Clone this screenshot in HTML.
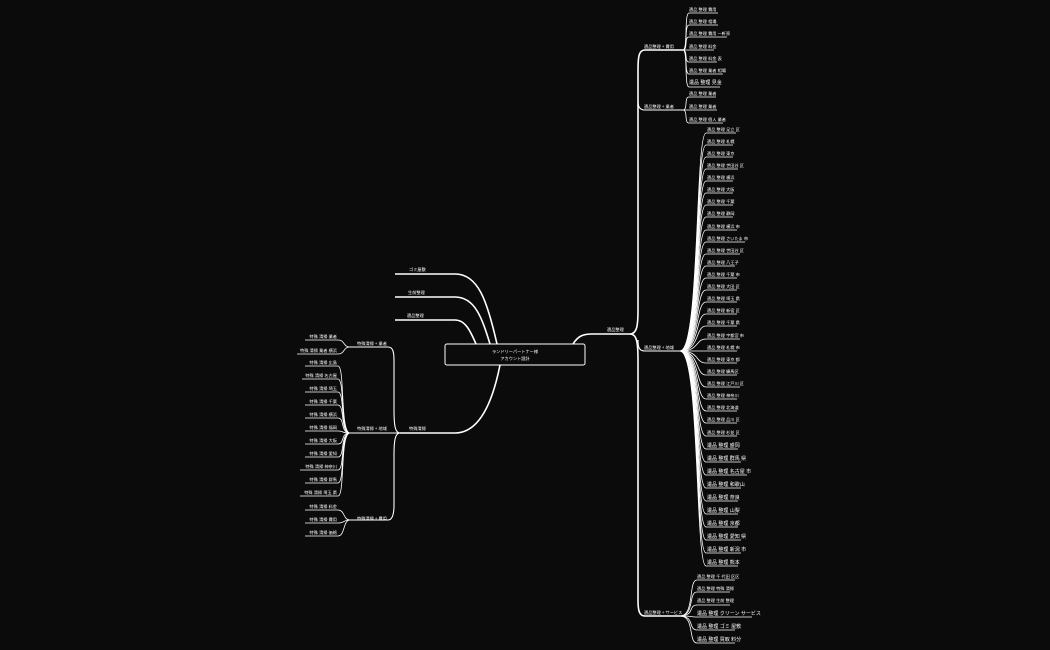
<!DOCTYPE html>
<html><head><meta charset="utf-8"><style>
html,body{margin:0;padding:0;background:#0b0b0b;}
svg{display:block}
text{font-family:"Liberation Sans","Noto Sans CJK JP",sans-serif;fill:#fff;font-size:4.2px}
.b{font-size:5px}
path{fill:none;stroke:#fff;stroke-width:0.8}
.t{stroke-width:1.6}
.m{stroke-width:1.1}
</style></head><body>
<svg width="1050" height="650" viewBox="0 0 1050 650">
<rect width="1050" height="650" fill="#0b0b0b"/>
<!-- root -->
<rect x="445" y="344" width="140" height="21" rx="2" fill="#0b0b0b" stroke="#fff" stroke-width="1"/>
<text x="515" y="353" text-anchor="middle">ランドリーパートナー様</text>
<text x="515" y="360" text-anchor="middle">アカウント設計</text>

<!-- right main -->
<path class="t" d="M573,344 C578,336 583,334 592,334 H630"/>
<text x="607" y="331">遺品整理</text>
<path class="t" d="M630,334 C637,334 638,325 638,310 V70 C638,56 639,50 645,50 H683"/>
<path class="t" d="M630,334 C637,334 638,343 638,360 V600 C638,610 639,616 645,616 H683"/>
<path class="m" d="M638,100 C638,106 639,110 645,110 H683"/>
<path class="m" d="M638,340 C638,347 639,351 645,351 H683"/>
<text x="644" y="48">遺品整理 + 費用</text>
<text x="644" y="108">遺品整理 + 業者</text>
<text x="644" y="349">遺品整理 + 地域</text>
<text x="644" y="614">遺品整理 + サービス</text>

<!-- 費用 leaves -->
<g>
<path d="M683,50 C688,50 684,13 689,13 H718"/><text x="689" y="11">遺品 整理 費用</text>
<path d="M683,50 C688,50 684,25 689,25 H718"/><text x="689" y="23">遺品 整理 相場</text>
<path d="M683,50 C688,50 684,37 689,37 H727"/><text x="689" y="35">遺品 整理 費用 一軒家</text>
<path d="M683,50 C688,50 684,50 689,50 H714"/><text x="689" y="48">遺品 整理 料金</text>
<path d="M683,50 C688,50 684,62 689,62 H717"/><text x="689" y="60">遺品 整理 料金 表</text>
<path d="M683,50 C688,50 684,74 689,74 H723"/><text x="689" y="72">遺品 整理 業者 相場</text>
<path d="M683,50 C688,50 684,87 689,87 H720"/><text class="b" x="689" y="84">遺品 整理 見金</text>
</g>
<!-- 業者 leaves -->
<g>
<path d="M683,110 C688,110 684,97 689,97 H716"/><text x="689" y="95">遺品 整理 業者</text>
<path d="M683,110 C688,110 684,110 689,110 H717"/><text x="689" y="108">遺品 整理 業者</text>
<path d="M683,110 C688,110 684,123 689,123 H723"/><text x="689" y="121">遺品 整理 個人 業者</text>
</g>
<!-- 地域 leaves -->
<g>
<path d="M680,351 C700,351 695,133 706,133 H736"/><text x="707" y="131">遺品 整理 足立 区</text>
<path d="M680,351 C700,351 695,145 706,145 H733"/><text x="707" y="143">遺品 整理 札幌</text>
<path d="M680,351 C700,351 695,157 706,157 H733"/><text x="707" y="155">遺品 整理 東京</text>
<path d="M680,351 C700,351 695,169 706,169 H738"/><text x="707" y="167">遺品 整理 世田谷 区</text>
<path d="M680,351 C700,351 695,181 706,181 H733"/><text x="707" y="179">遺品 整理 横浜</text>
<path d="M680,351 C700,351 695,193 706,193 H733"/><text x="707" y="191">遺品 整理 大阪</text>
<path d="M680,351 C700,351 695,205 706,205 H733"/><text x="707" y="203">遺品 整理 千葉</text>
<path d="M680,351 C700,351 695,217 706,217 H733"/><text x="707" y="215">遺品 整理 静岡</text>
<path d="M680,351 C700,351 695,230 706,230 H737"/><text x="707" y="228">遺品 整理 横浜 市</text>
<path d="M680,351 C700,351 695,242 706,242 H745"/><text x="707" y="240">遺品 整理 さいたま 市</text>
<path d="M680,351 C700,351 695,254 706,254 H740"/><text x="707" y="252">遺品 整理 世田谷 区</text>
<path d="M680,351 C700,351 695,266 706,266 H735"/><text x="707" y="264">遺品 整理 八王子</text>
<path d="M680,351 C700,351 695,278 706,278 H737"/><text x="707" y="276">遺品 整理 千葉 市</text>
<path d="M680,351 C700,351 695,290 706,290 H737"/><text x="707" y="288">遺品 整理 大田 区</text>
<path d="M680,351 C700,351 695,302 706,302 H737"/><text x="707" y="300">遺品 整理 埼玉 県</text>
<path d="M680,351 C700,351 695,314 706,314 H737"/><text x="707" y="312">遺品 整理 新宿 区</text>
<path d="M680,351 C700,351 695,326 706,326 H737"/><text x="707" y="324">遺品 整理 千葉 県</text>
<path d="M680,351 C700,351 695,339 706,339 H740"/><text x="707" y="337">遺品 整理 宇都宮 市</text>
<path d="M680,351 C700,351 695,351 706,351 H737"/><text x="707" y="349">遺品 整理 札幌 市</text>
<path d="M680,351 C700,351 695,363 706,363 H737"/><text x="707" y="361">遺品 整理 東京 都</text>
<path d="M680,351 C700,351 695,375 706,375 H737"/><text x="707" y="373">遺品 整理 練馬区</text>
<path d="M680,351 C700,351 695,387 706,387 H740"/><text x="707" y="385">遺品 整理 江戸川 区</text>
<path d="M680,351 C700,351 695,399 706,399 H737"/><text x="707" y="397">遺品 整理 神奈川</text>
<path d="M680,351 C700,351 695,411 706,411 H737"/><text x="707" y="409">遺品 整理 北海道</text>
<path d="M680,351 C700,351 695,423 706,423 H737"/><text x="707" y="421">遺品 整理 品川 区</text>
<path d="M680,351 C700,351 695,436 706,436 H737"/><text x="707" y="434">遺品 整理 杉並 区</text>
<path d="M680,351 C700,351 695,449 706,449 H738"/><text class="b" x="707" y="447">遺品 整理 盛岡</text>
<path d="M680,351 C700,351 695,462 706,462 H741"/><text class="b" x="707" y="460">遺品 整理 群馬 県</text>
<path d="M680,351 C700,351 695,475 706,475 H747"/><text class="b" x="707" y="473">遺品 整理 名古屋 市</text>
<path d="M680,351 C700,351 695,488 706,488 H741"/><text class="b" x="707" y="486">遺品 整理 和歌山</text>
<path d="M680,351 C700,351 695,501 706,501 H738"/><text class="b" x="707" y="499">遺品 整理 奈良</text>
<path d="M680,351 C700,351 695,514 706,514 H738"/><text class="b" x="707" y="512">遺品 整理 山梨</text>
<path d="M680,351 C700,351 695,527 706,527 H738"/><text class="b" x="707" y="525">遺品 整理 京都</text>
<path d="M680,351 C700,351 695,540 706,540 H741"/><text class="b" x="707" y="538">遺品 整理 愛知 県</text>
<path d="M680,351 C700,351 695,553 706,553 H741"/><text class="b" x="707" y="551">遺品 整理 新潟 市</text>
<path d="M680,351 C700,351 695,566 706,566 H738"/><text class="b" x="707" y="564">遺品 整理 熊本</text>
</g>
<!-- サービス leaves -->
<g>
<path d="M680,616 C695,616 688,580 697,580 H735"/><text x="697" y="578">遺品 整理 千 代田 区区</text>
<path d="M680,616 C695,616 688,592 697,592 H730"/><text x="697" y="590">遺品 整理 特殊 清掃</text>
<path d="M680,616 C695,616 688,605 697,605 H730"/><text x="697" y="602">遺品 整理 生前 整理</text>
<path d="M680,616 C695,616 688,617 697,617 H752"/><text class="b" x="697" y="615">遺品 整理 クリーン サービス</text>
<path d="M680,616 C695,616 688,630 697,630 H735"/><text class="b" x="697" y="628">遺品 整理 ゴミ 屋敷</text>
<path d="M680,616 C695,616 688,643 697,643 H735"/><text class="b" x="697" y="641">遺品 整理 買取 料分</text>
</g>

<!-- left main -->
<path class="t" d="M395,274 H455 C478,274 487,300 497,344"/>
<text x="409" y="271">ゴミ屋敷</text>
<path class="t" d="M395,297 H455 C475,297 482,318 490,344"/>
<text x="408" y="294">生前整理</text>
<path class="t" d="M395,320 H455 C465,320 470,330 476,344"/>
<text x="407" y="317">遺品整理</text>
<path class="t" d="M400,433 H455 C480,433 493,400 500,365"/>
<text x="409" y="430">特殊清掃</text>
<!-- left subtrunk -->
<path class="m" d="M400,433 C395,433 394,425 394,410 V360 C394,350 392,347 388,347 H350"/>
<path class="m" d="M400,433 H350"/>
<path class="m" d="M400,433 C395,433 394,441 394,455 V505 C394,515 392,520 388,520 H350"/>
<text x="357" y="345">特殊清掃 + 業者</text>
<text x="357" y="430">特殊清掃 + 地域</text>
<text x="357" y="520">特殊清掃 + 費用</text>
<g>
<path d="M350,347 C343,347 345,340 338,340 H305"/><text x="337" y="338" text-anchor="end">特殊 清掃 業者</text>
<path d="M350,347 C343,347 345,354 338,354 H297"/><text x="337" y="352" text-anchor="end">特殊 清掃 業者 横浜</text>
</g>
<g>
<path d="M350,433 C340,433 345,366 338,366 H305"/><text x="337" y="364" text-anchor="end">特殊 清掃 広島</text>
<path d="M350,433 C340,433 345,379 338,379 H302"/><text x="337" y="377" text-anchor="end">特殊 清掃 名古屋</text>
<path d="M350,433 C340,433 345,392 338,392 H305"/><text x="337" y="390" text-anchor="end">特殊 清掃 埼玉</text>
<path d="M350,433 C340,433 345,405 338,405 H305"/><text x="337" y="403" text-anchor="end">特殊 清掃 千葉</text>
<path d="M350,433 C340,433 345,418 338,418 H305"/><text x="337" y="416" text-anchor="end">特殊 清掃 横浜</text>
<path d="M350,433 C340,433 345,431 338,431 H305"/><text x="337" y="429" text-anchor="end">特殊 清掃 福岡</text>
<path d="M350,433 C340,433 345,444 338,444 H305"/><text x="337" y="442" text-anchor="end">特殊 清掃 大阪</text>
<path d="M350,433 C340,433 345,457 338,457 H305"/><text x="337" y="455" text-anchor="end">特殊 清掃 愛知</text>
<path d="M350,433 C340,433 345,470 338,470 H300"/><text x="337" y="468" text-anchor="end">特殊 清掃 神奈川</text>
<path d="M350,433 C340,433 345,483 338,483 H305"/><text x="337" y="481" text-anchor="end">特殊 清掃 群馬</text>
<path d="M350,433 C340,433 345,496 338,496 H300"/><text x="337" y="494" text-anchor="end">特殊 清掃 埼玉 県</text>
</g>
<g>
<path d="M350,520 C343,520 345,510 338,510 H305"/><text x="337" y="508" text-anchor="end">特殊 清掃 料金</text>
<path d="M350,520 C343,520 345,523 338,523 H305"/><text x="337" y="521" text-anchor="end">特殊 清掃 費用</text>
<path d="M350,520 C343,520 345,536 338,536 H305"/><text x="337" y="534" text-anchor="end">特殊 清掃 価格</text>
</g>
</svg>
</body></html>
